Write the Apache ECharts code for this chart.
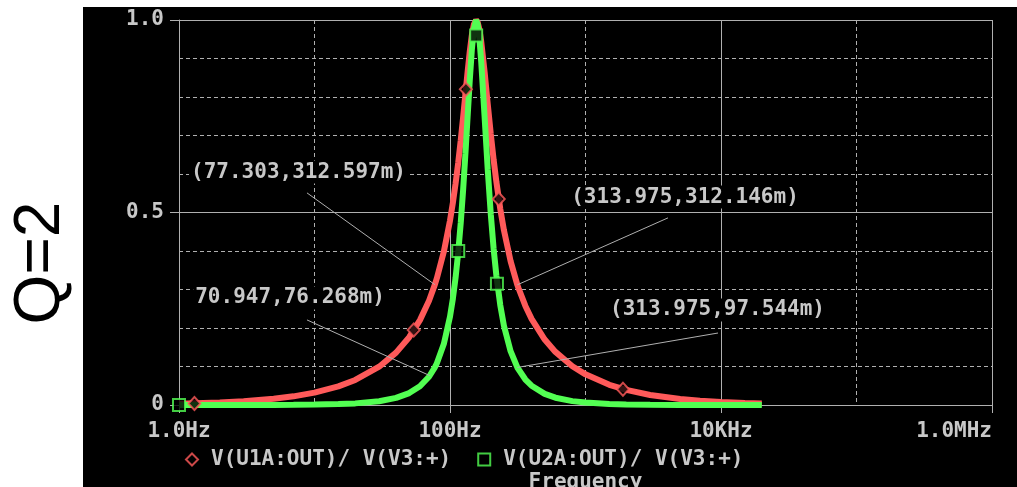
<!DOCTYPE html>
<html>
<head>
<meta charset="utf-8">
<script src="https://cdn.jsdelivr.net/npm/echarts@6/dist/echarts.min.js"></script>
<style>html,body{margin:0;padding:0;background:#fff}#c{width:1017px;height:487px}</style>
</head>
<body>
<div id="c"></div>
<script>
// ---- data ----
var freqs = [1,2,3,5,7,10,15,20,30,40,50,60,70,77.303,80,90,100,105,110,115,120,125,130,135,140,145,150,155.8,160,165,170,180,190,200,210,220,235,250,280,313.975,320,360,400,500,600,800,1000,1500,2000,3000,5000,7000,10000,15000,20000];
var redVals = [0.0032,0.0064,0.0096,0.0161,0.0225,0.0322,0.0485,0.0651,0.0995,0.1361,0.1761,0.2205,0.2710,0.3126,0.3293,0.3978,0.4790,0.5253,0.5755,0.6298,0.6875,0.7477,0.8084,0.8669,0.9191,0.9611,0.9886,1.0,0.9944,0.9746,0.9441,0.8652,0.7812,0.7038,0.6364,0.5791,0.5091,0.4540,0.3738,0.3121,0.3040,0.2573,0.2238,0.1700,0.1379,0.1007,0.0796,0.0524,0.0392,0.0260,0.0156,0.0111,0.0078,0.0052,0.0039];
var greenVals = [0.0000,0.0000,0.0001,0.0003,0.0005,0.0010,0.0024,0.0042,0.0099,0.0185,0.0310,0.0486,0.0734,0.0977,0.1084,0.1582,0.2295,0.2760,0.3312,0.3967,0.4727,0.5590,0.6535,0.7514,0.8448,0.9238,0.9774,1.0,0.9888,0.9499,0.8913,0.7486,0.6103,0.4953,0.4050,0.3354,0.2592,0.2061,0.1397,0.0975,0.0924,0.0662,0.0501,0.0289,0.0190,0.0101,0.0063,0.0028,0.0015,0.0007,0.0002,0.0001,0.0001,0.0000,0.0000];
var redMarkers = [[1.3,0.004],[54,0.195],[131,0.82],[229,0.535],[1890,0.041]];
var greenMarkers = [[1,0.0],[115,0.40],[156,0.96],[222,0.315]];
var seriesNames = ['V(U1A:OUT)/ V(V3:+)', 'V(U2A:OUT)/ V(V3:+)'];
var xTickLabels = ['1.0Hz','10Hz','100Hz','1.0KHz','10KHz','100KHz','1.0MHz'];
var yTickLabels = ['0','0.5','1.0'];
var annotations = [
  {text:'(77.303,312.597m)', at:[7.62,0.605], from:[8.8,0.551], to:[77.303,0.312597]},
  {text:'70.947,76.268m)',   at:[6.60,0.278], from:[8.8,0.221], to:[70.947,0.076268]},
  {text:'(313.975,312.146m)',at:[5424,0.540], from:[4063,0.486], to:[313.975,0.312146]},
  {text:'(313.975,97.544m)', at:[9420,0.247], from:[9506,0.187], to:[313.975,0.097544]}
];

var RED = '#ff5a5a', GREEN = '#52ff52', GRID = '#b0b0b0', TXT = '#c8c8c8';
var FONT = 'DejaVu Sans Mono';
var FW = 'bold';

function pairs(xs, ys){ return xs.map(function(x,i){ return [x, ys[i]]; }); }

var chart = echarts.init(document.getElementById('c'), null, {renderer:'canvas'});
chart.setOption({
  backgroundColor: '#000',
  animation: false,
  grid: {left:179, top:20, right:25, bottom:82, containLabel:false, outerBoundsMode:'none'},
  xAxis: [
    {type:'log', logBase:10, min:1, max:1e6, interval:1, position:'bottom',
     axisLine:{show:false}, axisTick:{show:false}, axisLabel:{show:false},
     splitLine:{show:true, lineStyle:{color:GRID, width:1, type:[4,3]}}},
    {type:'log', logBase:10, min:1, max:1e6, interval:2, position:'bottom',
     axisLine:{show:true, lineStyle:{color:GRID, width:1}},
     axisTick:{show:true, length:8, lineStyle:{color:GRID, width:1}},
     axisLabel:{show:true, color:TXT, fontFamily:FONT, fontWeight:FW, fontSize:21, margin:16, alignMaxLabel:'right',
       formatter:function(v){ return xTickLabels[Math.round(Math.log10(v))]; }},
     splitLine:{show:true, lineStyle:{color:GRID, width:1, type:'solid'}},
     name:'Frequency', nameLocation:'middle', nameGap:67,
     nameTextStyle:{color:TXT, fontFamily:FONT, fontWeight:FW, fontSize:21}}
  ],
  yAxis: [
    {type:'value', min:0, max:1, interval:0.1, position:'left',
     axisLine:{show:false}, axisTick:{show:false}, axisLabel:{show:false},
     splitLine:{show:true, lineStyle:{color:GRID, width:1, type:[4,3]}}},
    {type:'value', min:0, max:1, interval:0.5, position:'left',
     axisLine:{show:true, lineStyle:{color:GRID, width:1}},
     axisTick:{show:true, length:9, lineStyle:{color:GRID, width:1}},
     axisLabel:{show:true, color:TXT, fontFamily:FONT, fontWeight:FW, fontSize:21, margin:15,
       formatter:function(v){ return yTickLabels[Math.round(v*2)]; }},
     splitLine:{show:true, lineStyle:{color:GRID, width:1, type:'solid'}}}
  ],
  legend: {
    left:180, top:444, itemWidth:12, itemHeight:12, itemGap:26,
    data:[seriesNames[0], seriesNames[1]],
    textStyle:{color:TXT, fontFamily:FONT, fontWeight:FW, fontSize:21, padding:[0,0,0,8]}
  },
  graphic: [
    {type:'rect', shape:{x:0,y:0,width:1017,height:7}, style:{fill:'#fff'}, z:100},
    {type:'rect', shape:{x:0,y:0,width:83,height:487}, style:{fill:'#fff'}, z:100},
    {type:'text', x:41, y:263, rotation:Math.PI/2, z:101,
     style:{text:'Q=2', fill:'#000', font:'64px "Liberation Sans"', textAlign:'center', textVerticalAlign:'middle'}}
  ],
  series: [
    {type:'line', name:'red', xAxisIndex:0, yAxisIndex:0, data:pairs(freqs, redVals),
     showSymbol:false, lineStyle:{color:RED, width:6}, itemStyle:{color:RED}, z:2,
     markLine:{silent:true, symbol:'none', label:{show:false},
       lineStyle:{color:GRID, width:1, type:'solid'},
       data: annotations.map(function(a){ return [{coord:a.from},{coord:a.to}]; })},
     markPoint:{silent:true, symbol:'circle', symbolSize:0,
       data: annotations.map(function(a){ return {coord:a.at, value:a.text,
         label:{show:true, position:'inside', formatter:a.text, color:TXT, fontFamily:FONT, fontWeight:FW, fontSize:21,
                backgroundColor:'#000', padding:[1,2]}}; })}
    },
    {type:'line', name:'green', xAxisIndex:0, yAxisIndex:0, data:pairs(freqs, greenVals),
     showSymbol:false, lineStyle:{color:GREEN, width:6}, itemStyle:{color:GREEN}, z:3},
    {type:'scatter', name:seriesNames[0], xAxisIndex:0, yAxisIndex:0, data:redMarkers,
     symbol:'diamond', symbolSize:[12,13], itemStyle:{color:'#000', borderColor:RED, borderWidth:2}, z:5},
    {type:'scatter', name:seriesNames[1], xAxisIndex:0, yAxisIndex:0, data:greenMarkers,
     symbol:'rect', symbolSize:12, itemStyle:{color:'#000', borderColor:GREEN, borderWidth:2}, z:5}
  ]
});
</script>
</body>
</html>
